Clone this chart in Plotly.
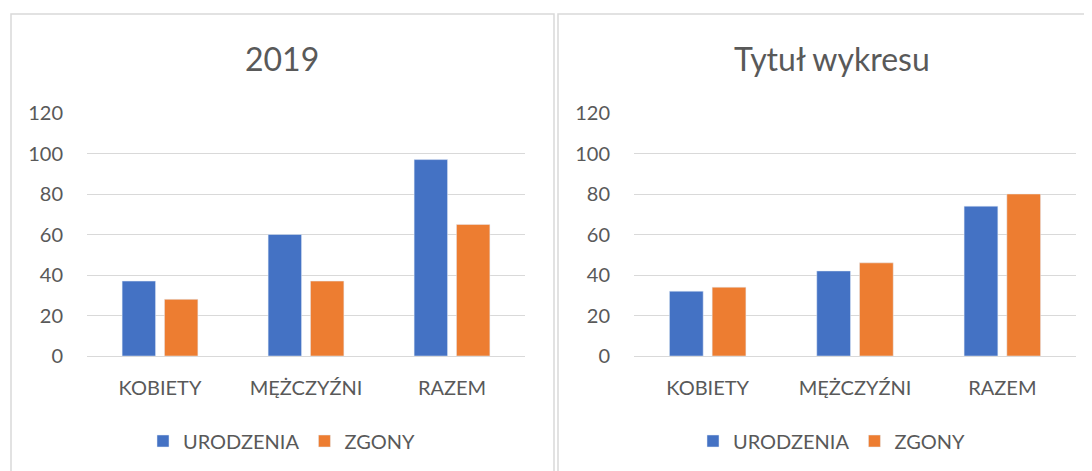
import plotly.graph_objects as go

# ── Data ────────────────────────────────────────────────────────────────────────
categories = ["KOBIETY", "MĘŻCZYŹNI", "RAZEM"]

left_title = "2019"
left_urodzenia = [37, 60, 97]
left_zgony = [28, 37, 65]

right_title = "Tytuł wykresu"
right_urodzenia = [32, 42, 74]
right_zgony = [34, 46, 80]

y_ticks = [0, 20, 40, 60, 80, 100, 120]

# ── Style ───────────────────────────────────────────────────────────────────────
W, H = 1092, 471
PAGE_MARGIN = 8  # default body margin of the html page
BLUE = "#4472C4"
ORANGE = "#ED7D31"
TEXT = "#595959"
GRID = "#D9D9D9"
FONT = "Lato, 'Open Sans', sans-serif"


def px_x(v):
    # screen pixel -> paper fraction
    return (v - PAGE_MARGIN) / W


def px_y(v):
    return (H - (v - PAGE_MARGIN)) / H


X_AXIS = dict(
    automargin=False,
    showgrid=False,
    showline=True,
    linecolor=GRID,
    linewidth=1.3,
    ticks="",
    ticklabelstandoff=14,
    tickfont=dict(size=20, color=TEXT),
    fixedrange=True,
)

Y_AXIS = dict(
    automargin=False,
    range=[0, 120],
    tickvals=y_ticks,
    showgrid=True,
    gridcolor=GRID,
    gridwidth=1.3,
    zeroline=False,
    showline=False,
    ticks="",
    ticklabelstandoff=23,
    tickfont=dict(size=20, color=TEXT),
    fixedrange=True,
)

fig = go.Figure()

fig.add_trace(go.Bar(x=categories, y=left_urodzenia, name="URODZENIA",
                     marker_color=BLUE, xaxis="x", yaxis="y", legend="legend"))
fig.add_trace(go.Bar(x=categories, y=left_zgony, name="ZGONY",
                     marker_color=ORANGE, xaxis="x", yaxis="y", legend="legend"))
fig.add_trace(go.Bar(x=categories, y=right_urodzenia, name="URODZENIA",
                     marker_color=BLUE, xaxis="x2", yaxis="y2", legend="legend2"))
fig.add_trace(go.Bar(x=categories, y=right_zgony, name="ZGONY",
                     marker_color=ORANGE, xaxis="x2", yaxis="y2", legend="legend2"))

legend_style = dict(
    orientation="h",
    yanchor="middle",
    xanchor="center",
    y=px_y(441),
    font=dict(size=20, color=TEXT, family=FONT),
    bgcolor="rgba(0,0,0,0)",
    itemclick=False,
    itemdoubleclick=False,
)

fig.update_layout(
    width=W,
    height=H,
    autosize=False,
    margin=dict(l=0, r=0, t=0, b=0, pad=0),
    paper_bgcolor="white",
    plot_bgcolor="white",
    font=dict(family=FONT, color=TEXT),
    barmode="group",
    bargap=0.42,
    bargroupgap=0.21,
    xaxis=dict(**X_AXIS, domain=[px_x(87), px_x(525)], anchor="y"),
    yaxis=dict(**Y_AXIS, domain=[px_y(356), px_y(113)], anchor="x"),
    xaxis2=dict(**X_AXIS, domain=[px_x(634), px_x(1076)], anchor="y2"),
    yaxis2=dict(**Y_AXIS, domain=[px_y(356), px_y(113)], anchor="x2"),
    legend=dict(**legend_style, x=px_x(282)),
    legend2=dict(**legend_style, x=px_x(832)),
    annotations=[
        dict(text=left_title, x=px_x(282), y=px_y(59), xref="paper", yref="paper",
             showarrow=False, xanchor="center", yanchor="middle",
             font=dict(size=32, color=TEXT)),
        dict(text=right_title, x=px_x(832), y=px_y(59), xref="paper", yref="paper",
             showarrow=False, xanchor="center", yanchor="middle",
             font=dict(size=32, color=TEXT)),
    ],
    shapes=[
        # chart frames, as in the spreadsheet screenshot
        dict(type="rect", xref="paper", yref="paper",
             x0=px_x(11), x1=px_x(554), y0=-0.1, y1=px_y(14),
             line=dict(color=GRID, width=1.5), layer="below"),
        dict(type="rect", xref="paper", yref="paper",
             x0=px_x(558), x1=1.1, y0=-0.1, y1=px_y(14),
             line=dict(color=GRID, width=1.5), layer="below"),
    ],
)

fig.write_html("out.html")
